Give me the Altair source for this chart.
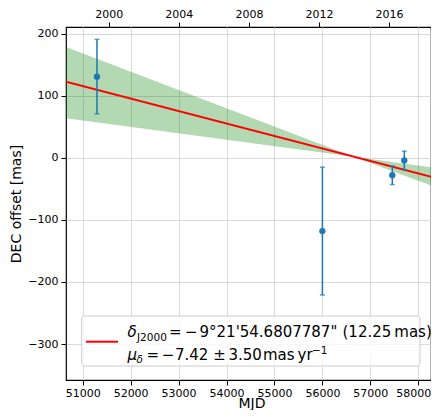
import altair as alt
import pandas as pd

# ---- data ----
mjd = [51298, 56000, 57458, 57708]
dec_offset = [131, -118, -28, -4]
dec_err = [60, 103, 15, 15]

fit_mjd = [50650, 58350]
fit_val = [123, -32]

band_mjd = [50650, 56650, 58350]
band_hi = [179, 2, -16]
band_lo = [64, 2, -47]

x_ticks = [51000, 52000, 53000, 54000, 55000, 56000, 57000, 58000]
y_ticks = [-300, -200, -100, 0, 100, 200]
year_ticks = [2000, 2004, 2008, 2012, 2016]

x_domain = [50652, 58265]
y_domain = [-358, 211]

W, H = 365, 353
FONT = "DejaVu Sans"

pts = pd.DataFrame({"mjd": mjd, "dec": dec_offset, "err": dec_err})
pts["lo"] = pts["dec"] - pts["err"]
pts["hi"] = pts["dec"] + pts["err"]
fit = pd.DataFrame({"mjd": fit_mjd, "val": fit_val})
band = pd.DataFrame({"mjd": band_mjd, "hi": band_hi, "lo": band_lo})

xs = alt.Scale(domain=x_domain, nice=False, zero=False)
ys = alt.Scale(domain=y_domain, nice=False, zero=False)

xaxis = alt.Axis(values=x_ticks, format="d", title="MJD", grid=True,
                 gridColor="#d9d9d9", domain=False, tickColor="black",
                 tickSize=5, labelPadding=2, labelFontSize=11, labelFont=FONT,
                 labelColor="black", titleFont=FONT, titleFontSize=14,
                 titleFontWeight="normal", titleColor="black",
                 titleX=185.5, titleY=27, titleBaseline="alphabetic",
                 labelOffset={"condition": {"test": "datum.value >= 58000",
                                            "value": -5}, "value": 0})
yaxis = alt.Axis(values=y_ticks, title="DEC offset [mas]", grid=True,
                 gridColor="#d9d9d9", domain=False, tickColor="black",
                 tickSize=5, labelPadding=3, labelFontSize=11, labelFont=FONT,
                 labelColor="black", titleFont=FONT, titleFontSize=14,
                 titleFontWeight="normal", titleColor="black",
                 titleX=-50, titleY=H / 2, titleAngle=270,
                 titleBaseline="middle", titleAlign="center")

band_l = alt.Chart(band).mark_area(color="green", opacity=0.3, clip=True).encode(
    x=alt.X("mjd:Q", scale=xs, axis=xaxis),
    y=alt.Y("hi:Q", scale=ys, axis=yaxis),
    y2="lo:Q",
)
line_l = alt.Chart(fit).mark_line(color="red", strokeWidth=2, clip=True).encode(
    x=alt.X("mjd:Q", scale=xs), y=alt.Y("val:Q", scale=ys)
)
bars = alt.Chart(pts).mark_rule(color="#1f77b4", strokeWidth=1.5).encode(
    x=alt.X("mjd:Q", scale=xs), y=alt.Y("lo:Q", scale=ys), y2="hi:Q"
)
cap_lo = alt.Chart(pts).mark_tick(color="#1f77b4", orient="horizontal",
                                  size=5, thickness=1.5).encode(
    x=alt.X("mjd:Q", scale=xs), y=alt.Y("lo:Q", scale=ys)
)
cap_hi = alt.Chart(pts).mark_tick(color="#1f77b4", orient="horizontal",
                                  size=5, thickness=1.5).encode(
    x=alt.X("mjd:Q", scale=xs), y=alt.Y("hi:Q", scale=ys)
)
dots = alt.Chart(pts).mark_circle(color="#1f77b4", opacity=1, size=40).encode(
    x=alt.X("mjd:Q", scale=xs), y=alt.Y("dec:Q", scale=ys)
)

one = pd.DataFrame({"a": [0]})
leg_box = alt.Chart(one).mark_rect(fill="white", fillOpacity=0.8,
                                   stroke="#cccccc", strokeWidth=1,
                                   cornerRadius=3).encode(
    x=alt.value(15.7), x2=alt.value(354), y=alt.value(289), y2=alt.value(339)
)
leg_line = alt.Chart(one).mark_rule(color="red", strokeWidth=2).encode(
    x=alt.value(20), x2=alt.value(52), y=alt.value(314.7)
)


def txt(s, x, y, size=15, italic=False):
    kw = dict(text=s, font=FONT, fontSize=size, align="left",
              baseline="alphabetic", color="black")
    if italic:
        kw["fontStyle"] = "italic"
    return alt.Chart(one).mark_text(**kw).encode(x=alt.value(x), y=alt.value(y))


B1, B2 = 310.3, 332.7
legend_texts = [
    txt("δ", 61.5, B1, italic=True),
    txt("J2000", 71, B1 + 3.4, size=10.5),
    txt("=", 103, B1),
    txt("−", 119, B1),
    txt("9°21'54.6807787\"", 133.5, B1),
    txt("(12.25\u2009mas)", 276.5, B1),
    txt("μ", 61.5, B2, italic=True),
    txt("δ", 70.5, B2 + 3.4, size=10.5, italic=True),
    txt("=", 80.5, B2),
    txt("−", 95.7, B2),
    txt("7.42", 109, B2),
    txt("±", 147.3, B2),
    txt("3.50", 162.5, B2),
    txt("mas\u2009yr", 197, B2),
    txt("−1", 246, 327, size=10.5),
]

main = alt.layer(band_l, line_l, bars, cap_lo, cap_hi, dots, leg_box,
                 leg_line, *legend_texts)

# top axis in calendar years
yr_domain = [2000 + (v - 51544.5) / 365.25 for v in x_domain]
top = alt.Chart(pd.DataFrame({"yr": yr_domain})).mark_point(opacity=0).encode(
    x=alt.X("yr:Q", scale=alt.Scale(domain=yr_domain, nice=False, zero=False),
            axis=alt.Axis(orient="top", values=year_ticks, format="d",
                          title=None, grid=False, domain=False,
                          tickColor="black", tickSize=5, labelPadding=3,
                          labelFontSize=11, labelFont=FONT,
                          labelColor="black")),
    y=alt.Y("yr:Q", scale=alt.Scale(domain=[0, 1]), axis=None),
)

chart = alt.layer(main, top).resolve_scale(x="independent", y="independent").properties(
    width=W, height=H,
    autosize=alt.AutoSizeParams(type="none"),
    padding={"left": 58, "top": 19, "right": 0, "bottom": 30},
).configure_view(stroke="black", strokeWidth=1.2)

chart.save("out.html", embed_options={"renderer": "svg", "actions": False})
